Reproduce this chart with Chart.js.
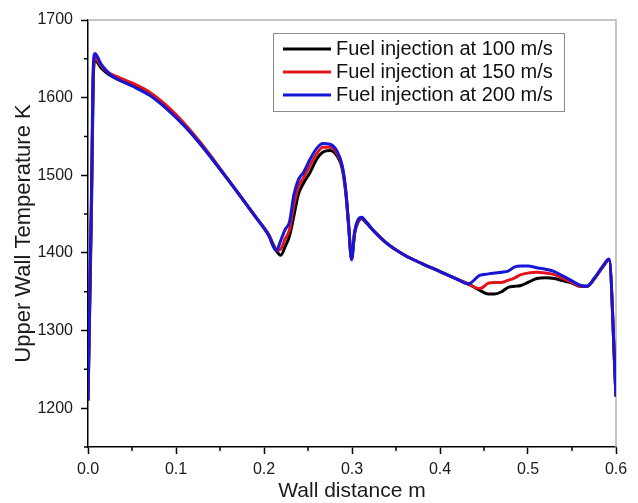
<!DOCTYPE html>
<html>
<head>
<meta charset="utf-8">
<script src="https://cdn.jsdelivr.net/npm/chart.js@4/dist/chart.umd.min.js"></script>
<style>
	body { margin: 0; background: #fff; }
	canvas { display: block; }
</style>
</head>
<body>
<canvas id="chart" width="638" height="503"></canvas>
<script>
// wall distance (m)
const distance = [
	0, 0.002, 0.004, 0.006, 0.008, 0.011, 0.015, 0.02, 0.025, 0.035,
	0.05, 0.07, 0.09, 0.11, 0.13, 0.15, 0.17, 0.19, 0.205, 0.214,
	0.219, 0.224, 0.229, 0.234, 0.239, 0.245, 0.252, 0.26, 0.267, 0.275,
	0.283, 0.289, 0.293, 0.296, 0.2995, 0.303, 0.307, 0.311, 0.316, 0.325,
	0.34, 0.36, 0.38, 0.40, 0.42, 0.432, 0.445, 0.455, 0.462, 0.47,
	0.478, 0.485, 0.492, 0.5, 0.51, 0.52, 0.53, 0.54, 0.55, 0.56,
	0.567, 0.575, 0.585, 0.592, 0.6
];
// upper wall temperature (K)
const temp100 = [
	1210, 1330, 1460, 1625, 1649, 1645, 1638, 1633, 1629, 1623,
	1616, 1604, 1586, 1564, 1537, 1508, 1478, 1447, 1424, 1403,
	1397, 1408, 1422, 1448, 1475, 1490, 1503, 1521, 1530, 1532,
	1525, 1508, 1477, 1437, 1393, 1425, 1440, 1444, 1439, 1428,
	1412, 1397, 1386, 1376, 1366, 1360, 1352, 1347, 1347, 1350,
	1356, 1357, 1358, 1362, 1367, 1368, 1367, 1364, 1361, 1357,
	1357, 1366, 1382, 1391, 1215
];
const temp150 = [
	1210, 1340, 1470, 1630, 1651, 1648, 1641, 1635, 1631, 1626,
	1619, 1607, 1589, 1566, 1539, 1509, 1478, 1447, 1424, 1403,
	1405, 1418, 1430, 1462, 1485, 1497, 1512, 1528, 1536, 1536,
	1528, 1510, 1478, 1438, 1392, 1426, 1441, 1445, 1440, 1428,
	1412, 1397, 1386, 1376, 1366, 1360, 1354, 1361, 1362, 1362,
	1365, 1368, 1372, 1374, 1375, 1374, 1372, 1367, 1362, 1357,
	1357, 1366, 1382, 1391, 1215
];
const temp200 = [
	1210, 1350, 1480, 1640, 1657, 1652, 1643, 1636, 1630, 1623,
	1615, 1603, 1585, 1563, 1537, 1508, 1478, 1447, 1423, 1403,
	1416, 1430, 1440, 1475, 1494, 1504, 1520, 1535, 1541, 1540,
	1531, 1512, 1480, 1440, 1391, 1428, 1443, 1446, 1440, 1428,
	1412, 1397, 1386, 1376, 1366, 1360, 1371, 1373, 1374, 1375,
	1377, 1382, 1383, 1383, 1381, 1379, 1376, 1370, 1364, 1358,
	1357, 1367, 1383, 1392, 1215
];
const seriesLabels = ['Fuel injection at 100 m/s', 'Fuel injection at 150 m/s', 'Fuel injection at 200 m/s'];
const seriesColors = ['#000000', '#e3141c', '#1616d6'];

const toPoints = ys => distance.map((x, i) => ({ x, y: ys[i] }));

// top and right frame lines in grey
const framePlugin = {
	id: 'frame',
	beforeDatasetsDraw(chart) {
		const { ctx, chartArea: a } = chart;
		ctx.save();
		ctx.strokeStyle = '#b4b4b4';
		ctx.lineWidth = 1.5;
		ctx.beginPath();
		ctx.moveTo(a.left, a.top);
		ctx.lineTo(a.right, a.top);
		ctx.lineTo(a.right, a.bottom);
		ctx.stroke();
		ctx.restore();
	}
};

// short minor ticks between the labelled ones
const minorTicks = {
	id: 'minorTicks',
	afterDraw(chart) {
		const { ctx, chartArea: a } = chart;
		const xs = chart.scales.x, ys = chart.scales.y;
		ctx.save();
		ctx.strokeStyle = '#000';
		ctx.lineWidth = 1.5;
		ctx.beginPath();
		for (let v = 0.05; v < 0.6; v += 0.1) {
			const px = xs.getPixelForValue(v);
			ctx.moveTo(px, a.bottom);
			ctx.lineTo(px, a.bottom + 4);
		}
		for (let v = 1150; v < 1700; v += 100) {
			const py = ys.getPixelForValue(v);
			ctx.moveTo(a.left, py);
			ctx.lineTo(a.left - 4, py);
		}
		ctx.stroke();
		ctx.restore();
	}
};

// boxed legend in the upper right of the plot
const boxLegend = {
	id: 'boxLegend',
	afterDraw(chart) {
		const { ctx } = chart;
		ctx.save();
		ctx.strokeStyle = '#8a8a8a';
		ctx.lineWidth = 1;
		ctx.strokeRect(273.5, 33.5, 291, 78);
		ctx.font = '20px "Liberation Sans", Arial, sans-serif';
		ctx.textBaseline = 'middle';
		chart.data.datasets.forEach((ds, i) => {
			const y = 49 + i * 23;
			ctx.strokeStyle = ds.borderColor;
			ctx.lineWidth = 3;
			ctx.beginPath();
			ctx.moveTo(283, y);
			ctx.lineTo(331, y);
			ctx.stroke();
			ctx.fillStyle = '#111';
			ctx.fillText(ds.label, 336, y);
		});
		ctx.restore();
	}
};

Chart.defaults.font.family = '"Liberation Sans", Arial, sans-serif';
Chart.defaults.color = '#1a1a1a';

const datasets = [temp100, temp150, temp200].map((ys, i) => ({
	label: seriesLabels[i],
	data: toPoints(ys),
	borderColor: seriesColors[i],
	backgroundColor: seriesColors[i],
	borderWidth: 3,
	pointRadius: 0,
	fill: false,
	cubicInterpolationMode: 'monotone',
	order: 3 - i
}));

new Chart(document.getElementById('chart').getContext('2d'), {
	type: 'line',
	data: { datasets },
	options: {
		responsive: false,
		animation: false,
		layout: { padding: { top: 20, right: 22, left: 0, bottom: 0 } },
		plugins: {
			legend: { display: false },
			tooltip: { enabled: false }
		},
		scales: {
			x: {
				type: 'linear',
				min: 0,
				max: 0.6,
				afterFit: s => { s.height = 56; },
				border: { color: '#000', width: 1.5 },
				grid: { drawOnChartArea: false, color: '#000', tickLength: 7, tickWidth: 1.5 },
				ticks: {
					stepSize: 0.1,
					padding: 6,
					font: { size: 16 },
					callback: v => v.toFixed(1)
				},
				title: { display: true, text: 'Wall distance m', font: { size: 21 }, padding: { top: 0, bottom: -1 } }
			},
			y: {
				min: 1150,
				max: 1700,
				afterFit: s => { s.width = 88; },
				border: { color: '#000', width: 1.5 },
				grid: {
					drawOnChartArea: false,
					tickLength: 7,
					tickWidth: 1.5,
					tickColor: c => (c.tick && c.tick.value % 100 === 0 ? '#000' : 'rgba(0,0,0,0)')
				},
				ticks: {
					stepSize: 100,
					padding: 8,
					font: { size: 16 },
					callback: v => (v % 100 === 0 ? v : '')
				},
				title: { display: true, text: 'Upper Wall Temperature K', font: { size: 22 }, padding: { top: 11, bottom: 0 } }
			}
		}
	},
	plugins: [framePlugin, minorTicks, boxLegend]
});
</script>
</body>
</html>
